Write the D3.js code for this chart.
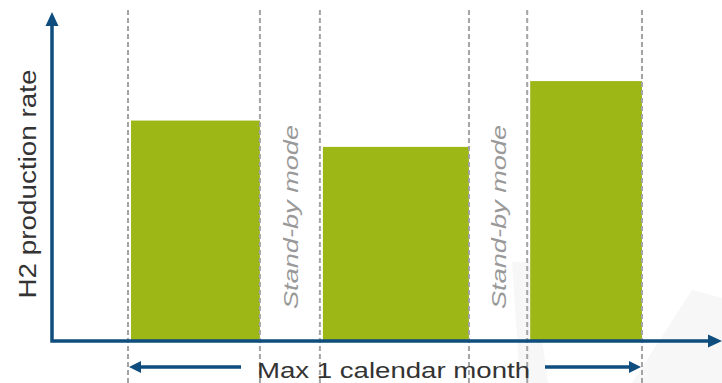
<!DOCTYPE html>
<html>
<head>
<meta charset="utf-8">
<script src="https://cdn.jsdelivr.net/npm/d3@7"></script>
<style>
  html, body { margin: 0; padding: 0; background: #fff; }
  svg { display: block; }
</style>
</head>
<body>
<svg id="chart" width="722" height="383"></svg>
<script>
// Operating phases over one calendar month (days), with relative H2 production rate
const phaseLabels = ["Production", "Stand-by mode", "Production", "Stand-by mode", "Production"];
const phaseStart  = [0, 7.7, 11.2, 19.9, 23.3];
const phaseEnd    = [7.7, 11.2, 19.9, 23.3, 30];
const rateValues  = [67, null, 59, null, 79];

const yAxisTitle = "H2 production rate";
const spanLabel  = "Max 1 calendar month";

const W = 722, H = 383;
const svg = d3.select("#chart");

const axisColor = "#0e4d7e";
const barColor  = "#9cb716";
const dashColor = "#a4a4a4";

const x = d3.scaleLinear().domain([0, 30]).range([128, 642]);
const y = d3.scaleLinear().domain([0, 100]).range([341, 12]);

const phases = phaseLabels.map((label, i) => ({
  label, start: phaseStart[i], end: phaseEnd[i], value: rateValues[i]
}));

// faint background shapes
svg.append("polygon")
  .attr("points", "692,290 722,298 722,383 632,383")
  .attr("fill", "#f7f7f7");
svg.append("polygon")
  .attr("points", "512,262 532,262 548,383 520,383")
  .attr("fill", "#f7f7f7");

// production bars
svg.append("g").selectAll("rect")
  .data(phases.filter(d => d.value !== null))
  .join("rect")
  .attr("x", d => x(d.start) + 3)
  .attr("width", d => x(d.end) - x(d.start) - 3)
  .attr("y", d => y(d.value))
  .attr("height", d => y(0) - y(d.value))
  .attr("fill", barColor);

// phase boundaries
const boundaries = Array.from(new Set(phaseStart.concat(phaseEnd)));
svg.append("g").selectAll("line")
  .data(boundaries)
  .join("line")
  .attr("x1", d => x(d)).attr("x2", d => x(d))
  .attr("y1", 10).attr("y2", H)
  .attr("stroke", dashColor)
  .attr("stroke-width", 2)
  .attr("stroke-dasharray", "5,3");

// stand-by labels
svg.append("g").selectAll("text")
  .data(phases.filter(d => d.value === null))
  .join("text")
  .attr("transform", d => `translate(${(x(d.start) + x(d.end)) / 2 + 1},217) rotate(-90)`)
  .attr("text-anchor", "middle")
  .attr("dy", "0.35em")
  .attr("font-family", "Liberation Sans, Arial, sans-serif")
  .attr("font-style", "italic")
  .attr("font-size", 21)
  .attr("fill", "#999")
  .attr("textLength", 184)
  .attr("lengthAdjust", "spacingAndGlyphs")
  .text(d => d.label);

// arrowhead helper
function arrowHead(g, tipX, tipY, dir, len, half) {
  let pts;
  if (dir === "up") pts = [[tipX, tipY], [tipX - half, tipY + len], [tipX + half, tipY + len]];
  else if (dir === "right") pts = [[tipX, tipY], [tipX - len, tipY - half], [tipX - len, tipY + half]];
  else pts = [[tipX, tipY], [tipX + len, tipY - half], [tipX + len, tipY + half]];
  g.append("polygon").attr("points", pts.map(p => p.join(",")).join(" ")).attr("fill", axisColor);
}

// axes
const axes = svg.append("g");
axes.append("path")
  .attr("d", `M${52},${y.range()[1] + 10} V${y(0)} H${712}`)
  .attr("fill", "none")
  .attr("stroke", axisColor)
  .attr("stroke-width", 3.5);
arrowHead(axes, 52, y.range()[1], "up", 14, 6.5);
arrowHead(axes, 722, y(0), "right", 14, 6.5);

// month span arrows
const spanY = 367;
axes.append("line").attr("x1", x(0) + 8).attr("x2", 241).attr("y1", spanY).attr("y2", spanY)
  .attr("stroke", axisColor).attr("stroke-width", 3.5);
arrowHead(axes, x(0) + 1, spanY, "left", 12, 6);
axes.append("line").attr("x1", 545).attr("x2", x(30) - 8).attr("y1", spanY).attr("y2", spanY)
  .attr("stroke", axisColor).attr("stroke-width", 3.5);
arrowHead(axes, x(30) - 1, spanY, "right", 12, 6);

// axis titles
svg.append("text")
  .attr("x", 257).attr("y", 378)
  .attr("font-family", "Liberation Sans, Arial, sans-serif")
  .attr("font-size", 22)
  .attr("fill", "#333")
  .attr("textLength", 273)
  .attr("lengthAdjust", "spacingAndGlyphs")
  .text(spanLabel);

svg.append("text")
  .attr("transform", "translate(28,184) rotate(-90)")
  .attr("text-anchor", "middle")
  .attr("dy", "0.35em")
  .attr("font-family", "Liberation Sans, Arial, sans-serif")
  .attr("font-size", 23)
  .attr("fill", "#333")
  .attr("textLength", 229)
  .attr("lengthAdjust", "spacingAndGlyphs")
  .text(yAxisTitle);
</script>
</body>
</html>
